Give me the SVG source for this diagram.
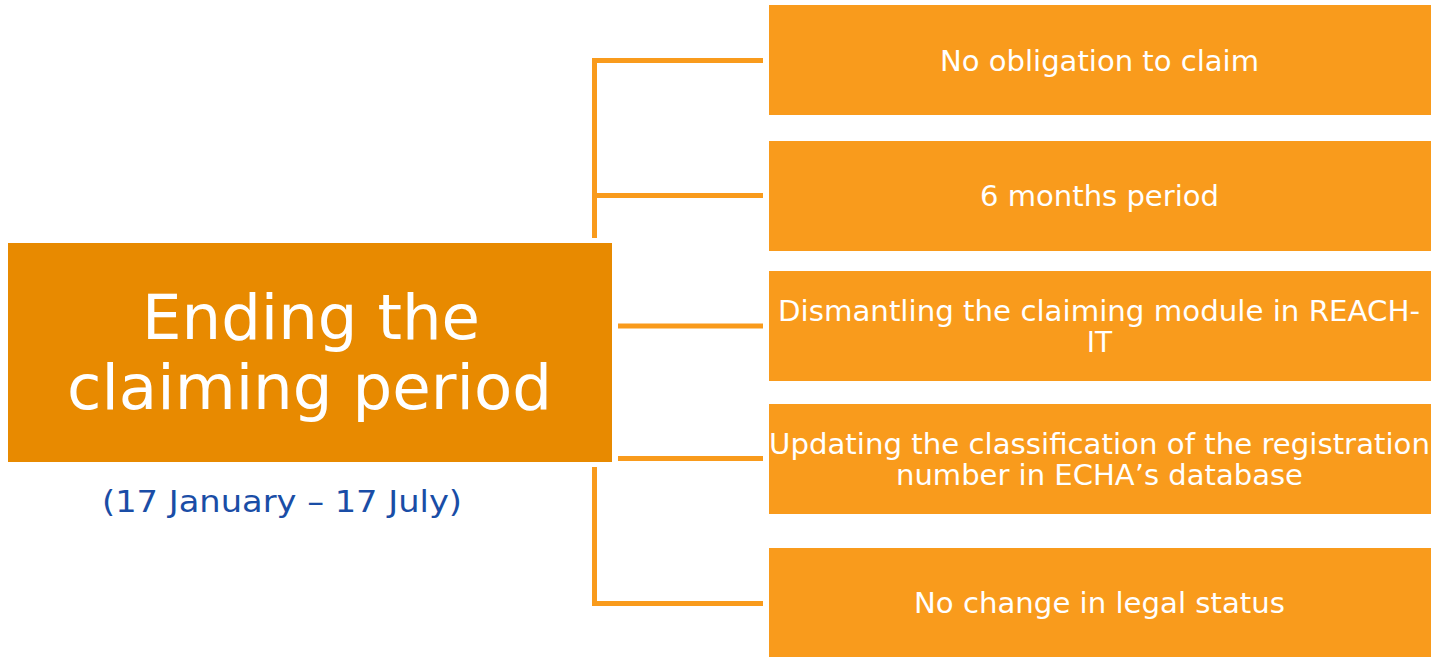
<svg xmlns="http://www.w3.org/2000/svg" width="1433" height="657" viewBox="0 0 1433 657">
<style>
.main{fill:#E88A00}
.box{fill:#F99B1C}
.t{font-family:"DejaVu Sans","Liberation Sans",sans-serif;fill:#FFFFFF;font-size:28px;text-anchor:middle}
.title{font-family:"DejaVu Sans","Liberation Sans",sans-serif;fill:#FFFFFF;font-size:63px;text-anchor:middle}
.sub{font-family:"DejaVu Sans","Liberation Sans",sans-serif;fill:#1A4DA6;font-size:30px;text-anchor:middle}
.c{stroke:#F99B1C;stroke-width:5;fill:none}
</style>
<rect width="1433" height="657" fill="#FFFFFF"/>
<g id="connectors">
<polyline class="c" points="763,60.5 594.5,60.5 594.5,238"/>
<line class="c" x1="594.5" y1="195.5" x2="763" y2="195.5"/>
<line class="c" x1="618" y1="326" x2="763" y2="326"/>
<line class="c" x1="618" y1="458.5" x2="763" y2="458.5"/>
<polyline class="c" points="594.5,467 594.5,603.5 763,603.5"/>
</g>
<g id="center">
<rect class="main" x="8" y="243" width="604" height="219"/>
<text class="title" x="311" y="339" textLength="338" lengthAdjust="spacingAndGlyphs">Ending the</text>
<text class="title" x="309.5" y="409" textLength="485" lengthAdjust="spacingAndGlyphs">claiming period</text>
</g>
<g id="subtitle">
<text class="sub" x="282" y="512" textLength="360" lengthAdjust="spacingAndGlyphs">(17 January – 17 July)</text>
</g>
<g id="n1">
<rect class="box" x="769" y="5" width="662" height="110"/>
<text class="t" x="1099.5" y="71" textLength="319" lengthAdjust="spacingAndGlyphs">No obligation to claim</text>
</g>
<g id="n2">
<rect class="box" x="769" y="141" width="662" height="110"/>
<text class="t" x="1099.5" y="206" textLength="239" lengthAdjust="spacingAndGlyphs">6 months period</text>
</g>
<g id="n3">
<rect class="box" x="769" y="271" width="662" height="110"/>
<text class="t" x="1099" y="321" textLength="642" lengthAdjust="spacingAndGlyphs">Dismantling the claiming module in REACH-</text>
<text class="t" x="1099.5" y="352">IT</text>
</g>
<g id="n4">
<rect class="box" x="769" y="404" width="662" height="110"/>
<text class="t" x="1099.5" y="454" textLength="661" lengthAdjust="spacingAndGlyphs">Updating the classification of the registration</text>
<text class="t" x="1099.5" y="485" textLength="407" lengthAdjust="spacingAndGlyphs">number in ECHA’s database</text>
</g>
<g id="n5">
<rect class="box" x="769" y="548" width="662" height="109"/>
<text class="t" x="1099.5" y="613" textLength="371" lengthAdjust="spacingAndGlyphs">No change in legal status</text>
</g>
</svg>
